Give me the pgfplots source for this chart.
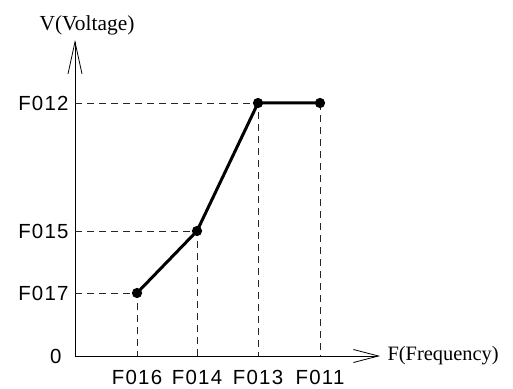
\documentclass[border=0pt]{standalone}
\usepackage{fontspec}
\setmainfont{Liberation Serif}
\newfontfamily\tickfont[LetterSpace=6]{Liberation Sans}
\usepackage{pgfplots}
\pgfplotsset{compat=1.18}
\usetikzlibrary{arrows.meta}
\begin{document}
\begin{tikzpicture}[x=1bp,y=1bp]
\path (0,0) rectangle (513,387);
\begin{axis}[
  at={(75bp,31bp)}, anchor=south west,
  scale only axis, width=305bp, height=316bp,
  xmin=0, xmax=305, ymin=0, ymax=316,
  axis lines=left,
  axis line style={line width=0.8bp},
  x axis line style={-{Straight Barb[length=25bp,width=13bp,line width=0.8bp]}},
  y axis line style={-{Straight Barb[length=32bp,width=14bp,line width=0.8bp]}},
  xtick={62,122,183,245}, xticklabels={F016,F014,F013,F011},
  ytick={63,125,253}, yticklabels={F017,F015,F012},
  extra y ticks={0}, extra y tick labels={0},
  extra y tick style={yticklabel style={xshift=-7bp}},
  major tick length=0,
  tick label style={font=\tickfont\fontsize{20.5}{20.5}\selectfont},
  xticklabel style={yshift=-11bp},
  yticklabel style={xshift=-3bp},
  clip=false,
]
\addplot[black!85, line width=0.8bp, dash pattern=on 7bp off 5bp] coordinates {(0,63) (62,63) (62,0)};
\addplot[black!85, line width=0.8bp, dash pattern=on 7bp off 5bp] coordinates {(0,125) (122,125) (122,0)};
\addplot[black!85, line width=0.8bp, dash pattern=on 7bp off 5bp] coordinates {(0,253) (183,253) (183,0)};
\addplot[black!85, line width=0.8bp, dash pattern=on 7bp off 5bp] coordinates {(245,253) (245,0)};
\addplot[black, line width=3bp, mark=*, mark size=3.5bp, mark options={solid}] coordinates {(62,63) (122,125) (183,253) (245,253)};
\node[font=\fontsize{21.5}{21.5}\selectfont] at (axis cs:12,331) {V(Voltage)};
\node[font=\fontsize{20.5}{20.5}\selectfont, anchor=west] at (axis cs:309,0) {F(Frequency)};
\end{axis}
\end{tikzpicture}
\end{document}
